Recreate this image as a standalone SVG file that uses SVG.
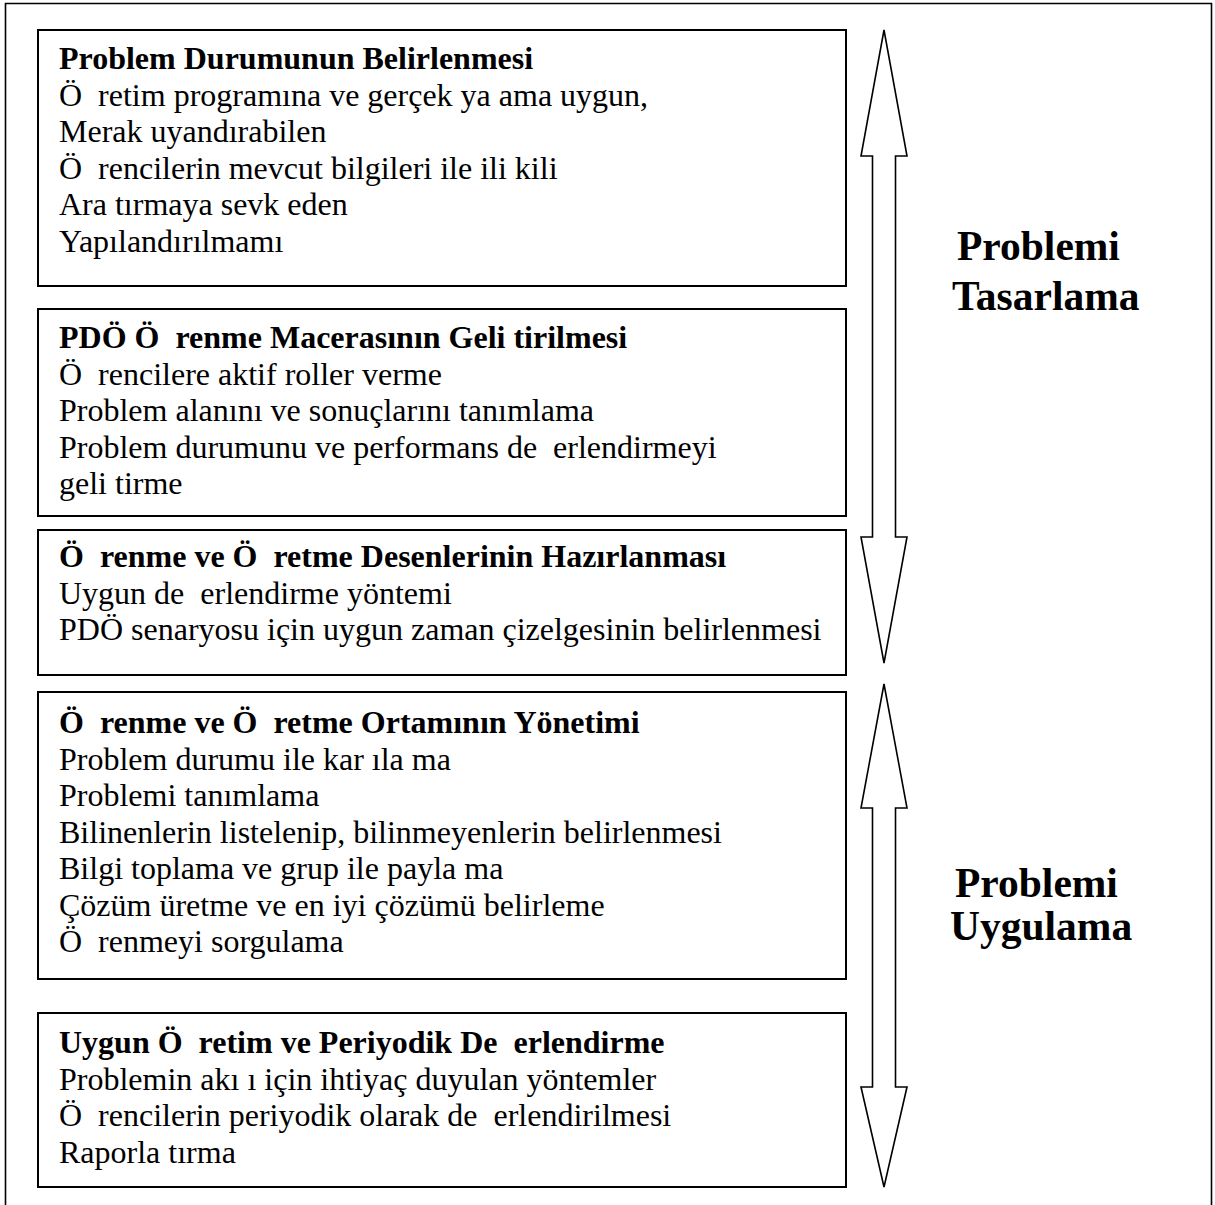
<svg xmlns="http://www.w3.org/2000/svg" width="1215" height="1205" viewBox="0 0 1215 1205">
<style>
.box{fill:#fff;stroke:#000;stroke-width:2}
.arr{fill:#fff;stroke:#000;stroke-width:1.6;stroke-linejoin:miter}
text{font-family:"Liberation Serif","Times New Roman",serif;fill:#000;white-space:pre}
.t{font-size:32px}
.b{font-weight:bold}
.big{font-size:41.5px;font-weight:bold}
</style>
<rect x="0" y="0" width="1215" height="1205" fill="#fff"/>
<path d="M5.5 1205 V3.5 H1211.5 V1205" fill="none" stroke="#000" stroke-width="1.6"/>
<g id="box1">
<rect class="box" x="38" y="30" width="808" height="256"/>
<text class="t" xml:space="preserve"><tspan class="b" x="59" y="69">Problem Durumunun Belirlenmesi</tspan><tspan x="59" y="105.5">Ö  retim programına ve gerçek ya ama uygun,</tspan><tspan x="59" y="142">Merak uyandırabilen</tspan><tspan x="59" y="178.5">Ö  rencilerin mevcut bilgileri ile ili kili</tspan><tspan x="59" y="215">Ara tırmaya sevk eden</tspan><tspan x="59" y="251.5">Yapılandırılmamı</tspan></text>
</g>
<g id="box2">
<rect class="box" x="38" y="309" width="808" height="207"/>
<text class="t" xml:space="preserve"><tspan class="b" x="59" y="348">PDÖ Ö  renme Macerasının Geli tirilmesi</tspan><tspan x="59" y="384.5">Ö  rencilere aktif roller verme</tspan><tspan x="59" y="421">Problem alanını ve sonuçlarını tanımlama</tspan><tspan x="59" y="457.5">Problem durumunu ve performans de  erlendirmeyi</tspan><tspan x="59" y="494">geli tirme</tspan></text>
</g>
<g id="box3">
<rect class="box" x="38" y="530" width="808" height="145"/>
<text class="t" xml:space="preserve"><tspan class="b" x="59" y="567">Ö  renme ve Ö  retme Desenlerinin Hazırlanması</tspan><tspan x="59" y="603.5">Uygun de  erlendirme yöntemi</tspan><tspan x="59" y="640">PDÖ senaryosu için uygun zaman çizelgesinin belirlenmesi</tspan></text>
</g>
<g id="box4">
<rect class="box" x="38" y="692" width="808" height="287"/>
<text class="t" xml:space="preserve"><tspan class="b" x="59" y="733">Ö  renme ve Ö  retme Ortamının Yönetimi</tspan><tspan x="59" y="769.5">Problem durumu ile kar ıla ma</tspan><tspan x="59" y="806">Problemi tanımlama</tspan><tspan x="59" y="842.5">Bilinenlerin listelenip, bilinmeyenlerin belirlenmesi</tspan><tspan x="59" y="879">Bilgi toplama ve grup ile payla ma</tspan><tspan x="59" y="915.5">Çözüm üretme ve en iyi çözümü belirleme</tspan><tspan x="59" y="952">Ö  renmeyi sorgulama</tspan></text>
</g>
<g id="box5">
<rect class="box" x="38" y="1013" width="808" height="174"/>
<text class="t" xml:space="preserve"><tspan class="b" x="59" y="1053">Uygun Ö  retim ve Periyodik De  erlendirme</tspan><tspan x="59" y="1089.5">Problemin akı ı için ihtiyaç duyulan yöntemler</tspan><tspan x="59" y="1126">Ö  rencilerin periyodik olarak de  erlendirilmesi</tspan><tspan x="59" y="1162.5">Raporla tırma</tspan></text>
</g>
<g id="connectors">
<polygon class="arr" points="884,30 907,156 895.5,156 895.5,537 907,537 884,663 861,537 872.5,537 872.5,156 861,156"/>
<polygon class="arr" points="884,684 907,808 895.5,808 895.5,1087 907,1087 884,1187 861,1087 872.5,1087 872.5,808 861,808"/>
</g>
<g id="label-tasarlama">
<text class="big" x="957" y="260">Problemi</text>
<text class="big" x="952" y="310">Tasarlama</text>
</g>
<g id="label-uygulama">
<text class="big" x="955" y="897">Problemi</text>
<text class="big" x="950" y="940">Uygulama</text>
</g>
</svg>
